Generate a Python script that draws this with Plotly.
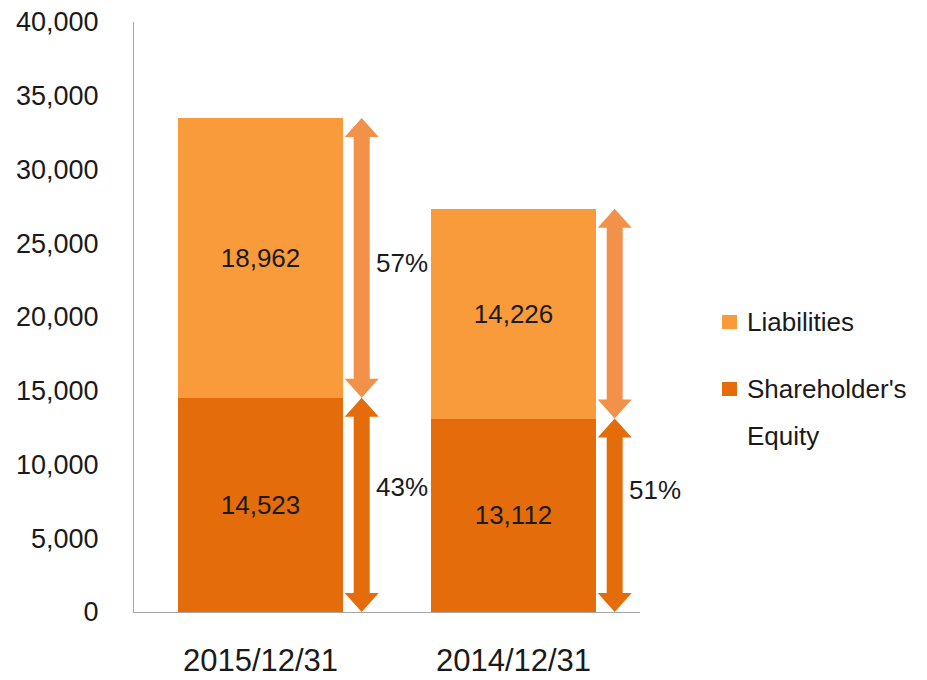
import plotly.graph_objects as go

# ---- data ----
categories = ["2015/12/31", "2014/12/31"]
equity = [14523, 13112]
liabilities = [18962, 14226]
equity_pct = ["43%", "51%"]
liab_pct = ["57%", ""]
series_names = ["Liabilities", "Shareholder's", "Equity"]

# ---- style ----
W, H = 927, 680
ML, MR, MT, MB = 134, 287, 22, 68
YMAX = 40000
C_LIAB = "#F99B3B"
C_EQ = "#E46C0A"
C_LIAB_ARROW = "#F2914A"
C_EQ_ARROW = "#E46C0A"
FONT = "Liberation Sans, Arial, sans-serif"
TXT = "#1a1a1a"

plot_w = W - ML - MR
plot_h = H - MT - MB
px2data = YMAX / plot_h
ncat = len(categories)

fig = go.Figure()
fig.add_trace(go.Bar(
    x=categories, y=equity, name="Shareholder's Equity",
    marker=dict(color=C_EQ, line=dict(width=0)), width=0.652,
    texttemplate="%{y:,}", textposition="inside", insidetextanchor="middle",
    textangle=0, textfont=dict(size=26, color=TXT, family=FONT),
    showlegend=False,
))
fig.add_trace(go.Bar(
    x=categories, y=liabilities, name="Liabilities",
    marker=dict(color=C_LIAB, line=dict(width=0)), width=0.652,
    texttemplate="%{y:,}", textposition="inside", insidetextanchor="middle",
    textangle=0, textfont=dict(size=26, color=TXT, family=FONT),
    showlegend=False,
))


def arrow_path(y_bot, y_top, shaft=8, head=17, head_h_px=19):
    hh = head_h_px * px2data
    return (f"M {-shaft},{y_bot+hh} L {-head},{y_bot+hh} L 0,{y_bot} L {head},{y_bot+hh} "
            f"L {shaft},{y_bot+hh} L {shaft},{y_top-hh} L {head},{y_top-hh} L 0,{y_top} "
            f"L {-head},{y_top-hh} L {-shaft},{y_top-hh} Z")


def cat_to_paper(pos):
    return (pos + 0.5) / ncat


arrow_offset = 0.40
label_offset = 0.56
liab_shift = [-5, 0]
eq_shift = [18, 25]
shapes = []
annotations = []
for i, cat in enumerate(categories):
    e = equity[i]
    total = equity[i] + liabilities[i]
    xa = i + arrow_offset
    shapes.append(dict(type="path", xref="x", yref="y", xsizemode="pixel", xanchor=xa,
                       path=arrow_path(e, total), fillcolor=C_LIAB_ARROW, line=dict(width=0)))
    shapes.append(dict(type="path", xref="x", yref="y", xsizemode="pixel", xanchor=xa,
                       path=arrow_path(0, e), fillcolor=C_EQ_ARROW, line=dict(width=0)))
    if liab_pct[i]:
        annotations.append(dict(x=cat_to_paper(i + label_offset), y=e + liabilities[i] / 2,
                                xref="paper", yref="y", xanchor="center", yanchor="middle",
                                text=liab_pct[i], showarrow=False, yshift=liab_shift[i],
                                font=dict(size=26, color=TXT, family=FONT)))
    if equity_pct[i]:
        annotations.append(dict(x=cat_to_paper(i + label_offset), y=e / 2,
                                xref="paper", yref="y", xanchor="center", yanchor="middle",
                                text=equity_pct[i], showarrow=False, yshift=eq_shift[i],
                                font=dict(size=26, color=TXT, family=FONT)))


# ---- manual legend (pixel positions converted to paper coords) ----
def px_x(px):
    return (px - ML) / plot_w


def px_y(py):
    return (H - MB - py) / plot_h


legend_items = [(series_names[0], C_LIAB, 322), (series_names[1], C_EQ, 389)]
for name, col, cy in legend_items:
    shapes.append(dict(type="rect", xref="paper", yref="paper",
                       x0=px_x(722), x1=px_x(737), y0=px_y(cy + 7), y1=px_y(cy - 7),
                       fillcolor=col, line=dict(width=0)))
    annotations.append(dict(x=px_x(745), y=px_y(cy), xref="paper", yref="paper",
                            xanchor="left", yanchor="middle", text=name, showarrow=False,
                            font=dict(size=26, color=TXT, family=FONT)))
annotations.append(dict(x=px_x(745), y=px_y(436), xref="paper", yref="paper",
                        xanchor="left", yanchor="middle", text=series_names[2], showarrow=False,
                        font=dict(size=26, color=TXT, family=FONT)))

fig.update_layout(
    template="none",
    width=W, height=H, autosize=False,
    margin=dict(l=ML, r=MR, t=MT, b=MB, pad=0, autoexpand=False),
    barmode="stack", bargap=0.35,
    paper_bgcolor="white", plot_bgcolor="white",
    shapes=shapes, annotations=annotations,
    showlegend=False,
    font=dict(family=FONT, color=TXT),
)
fig.update_xaxes(
    type="category", range=[-0.5, 1.5], showgrid=False, zeroline=False, automargin=False,
    showline=True, linecolor="#A6A6A6", linewidth=1, ticks="",
    tickfont=dict(size=31, color=TXT, family=FONT), ticklabelstandoff=21,
)
fig.update_yaxes(
    range=[0, YMAX], dtick=5000, tickformat=",", showgrid=False, zeroline=False, automargin=False,
    showline=True, linecolor="#A6A6A6", linewidth=1, ticks="",
    tickfont=dict(size=27, color=TXT, family=FONT), ticklabelstandoff=29,
)

fig.write_html("out.html", config={"displayModeBar": False},
               post_script="document.body.style.margin='0';")
